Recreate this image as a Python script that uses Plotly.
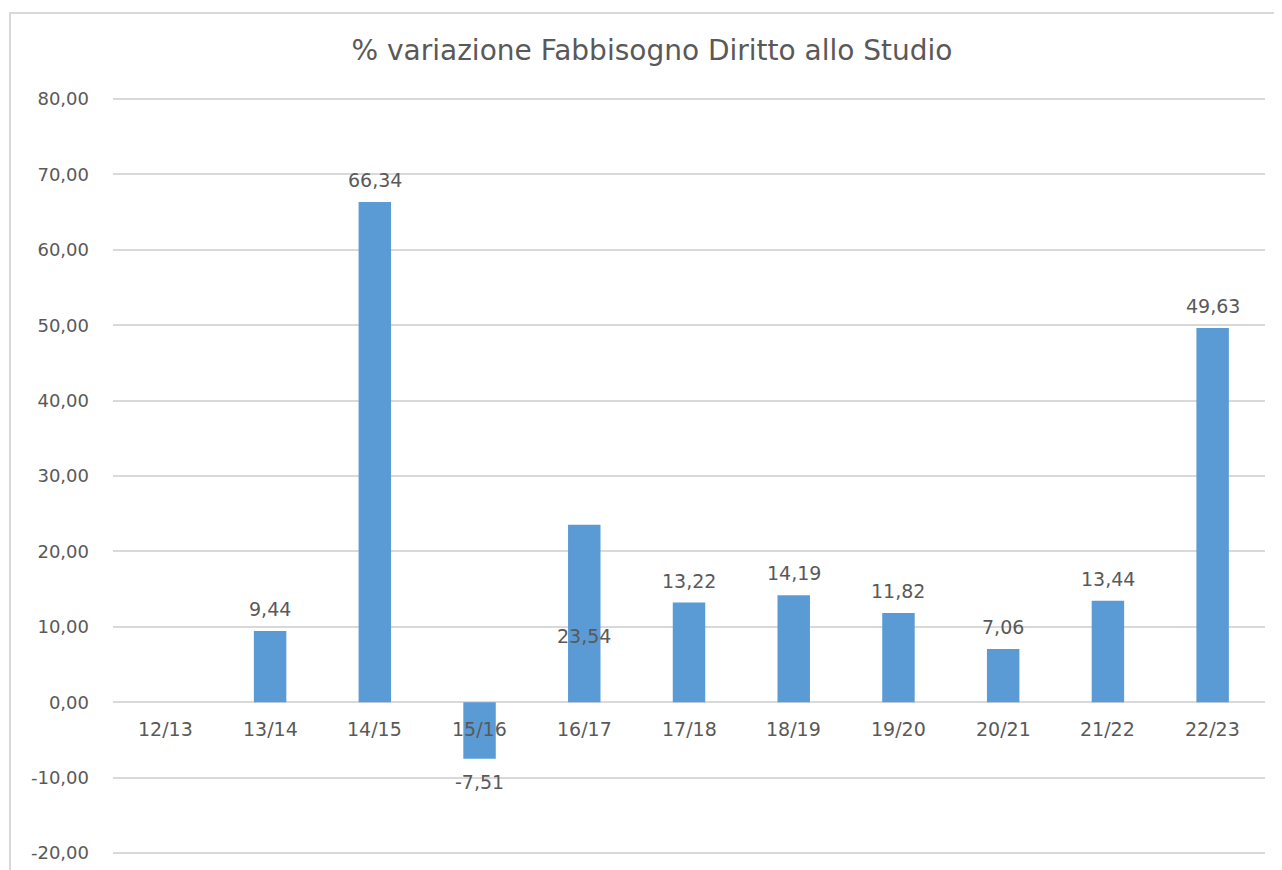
import plotly.graph_objects as go

categories = ["12/13", "13/14", "14/15", "15/16", "16/17", "17/18", "18/19", "19/20", "20/21", "21/22", "22/23"]
values = [0, 9.44, 66.34, -7.51, 23.54, 13.22, 14.19, 11.82, 7.06, 13.44, 49.63]
labels = ["", "9,44", "66,34", "-7,51", "23,54", "13,22", "14,19", "11,82", "7,06", "13,44", "49,63"]
# position of the odd "23,54" label (data units) as drawn in the original
odd_label_y = {"16/17": 8.8}
y_ticks = [-20, -10, 0, 10, 20, 30, 40, 50, 60, 70, 80]
y_ticktext = [f"{v},00" for v in y_ticks]

# page body adds an 8px offset
W, H = 1274, 862
L, R, T, B = 105, 17, 88, 14
pw, ph = W - L - R, H - T - B

fig = go.Figure()
fig.add_trace(go.Bar(x=categories, y=values, marker=dict(color="#5B9BD5", line=dict(width=0)),
                     width=0.31, hoverinfo="x+y"))

font = "DejaVu Sans, sans-serif"
grey = "#595959"
anns = []
for c, v, t in zip(categories, values, labels):
    if not t:
        continue
    if c in odd_label_y:
        anns.append(dict(x=c, y=odd_label_y[c], text=t, showarrow=False, yref="y", xref="x",
                         font=dict(family=font, size=19, color=grey)))
    else:
        anns.append(dict(x=c, y=v, text=t, showarrow=False, yref="y", xref="x",
                         yshift=22 if v >= 0 else -23,
                         font=dict(family=font, size=19, color=grey)))
# category labels drawn just under the zero line
for c in categories:
    anns.append(dict(x=c, y=0, text=c, showarrow=False, yref="y", xref="x", yshift=-27,
                     font=dict(family=font, size=19, color=grey)))

fig.update_layout(
    width=W, height=H,
    margin=dict(l=L, r=R, t=T, b=B, autoexpand=False),
    paper_bgcolor="white", plot_bgcolor="white",
    showlegend=False,
    title=dict(text="% variazione Fabbisogno Diritto allo Studio", x=644 / W, xanchor="center",
               y=1 - 42 / H, yanchor="middle",
               font=dict(family=font, size=28, color=grey)),
    xaxis=dict(showticklabels=False, showgrid=False, zeroline=False, showline=False,
               range=[-0.5, len(categories) - 0.5]),
    yaxis=dict(range=[-20.4, 80.4], tickvals=y_ticks, ticktext=y_ticktext,
               showgrid=True, gridcolor="#d9d9d9", gridwidth=2,
               zeroline=True, zerolinecolor="#d9d9d9", zerolinewidth=2,
               showline=False, ticks="", ticklabelstandoff=23,
               tickfont=dict(family=font, size=18, color=grey)),
    annotations=anns,
    shapes=[dict(type="rect", xref="paper", yref="paper",
                 x0=(2 - L) / pw, x1=(W + 5 - L) / pw,
                 y0=(H - B - (H + 10)) / ph, y1=(H - B - 5) / ph,
                 line=dict(color="#d9d9d9", width=2), fillcolor="rgba(0,0,0,0)", layer="below")],
)

fig.write_html("out.html")
